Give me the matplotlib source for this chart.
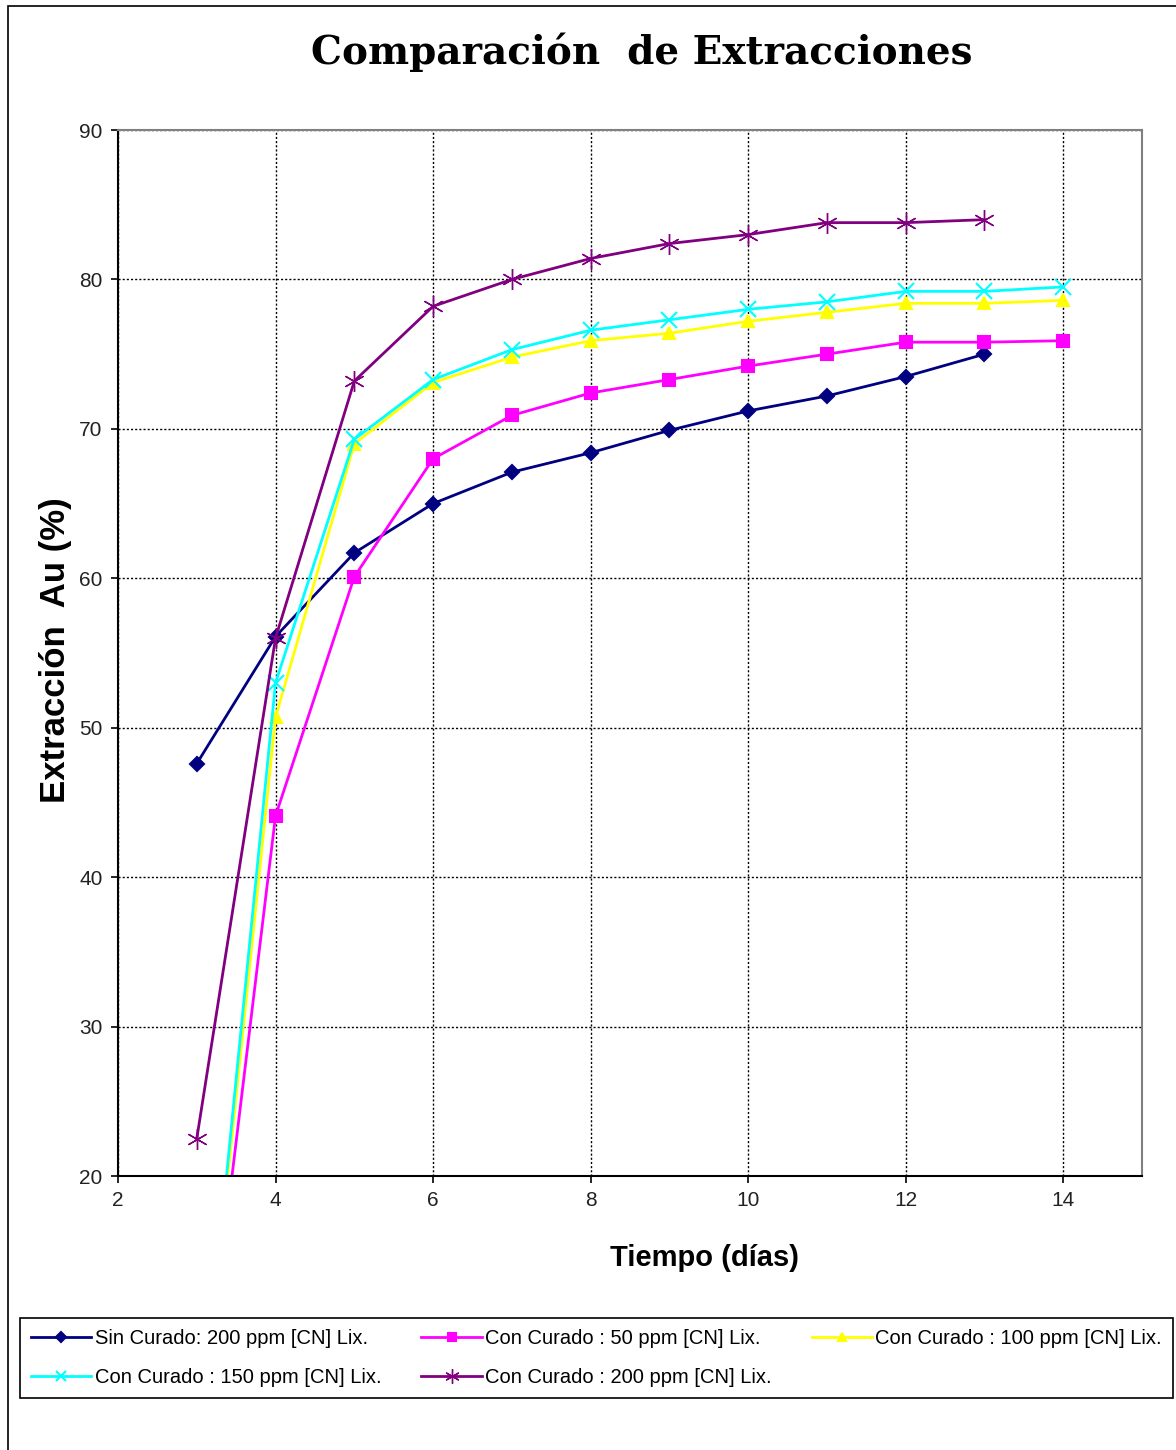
import matplotlib

matplotlib.use("Agg")
import matplotlib.pyplot as plt
from matplotlib.patches import Rectangle

# datos
dias = [3, 4, 5, 6, 7, 8, 9, 10, 11, 12, 13, 14]
sin_curado_200 = [47.6, 56.1, 61.7, 65.0, 67.1, 68.4, 69.9, 71.2, 72.2, 73.5, 75.0]
con_curado_50 = [0.5, 44.1, 60.1, 68.0, 70.9, 72.4, 73.3, 74.2, 75.0, 75.8, 75.8, 75.9]
con_curado_100 = [0.0, 50.7, 69.0, 73.1, 74.8, 75.9, 76.4, 77.2, 77.8, 78.4, 78.4, 78.6]
con_curado_150 = [0.0, 53.0, 69.3, 73.3, 75.3, 76.6, 77.3, 78.0, 78.5, 79.2, 79.2, 79.5]
con_curado_200 = [22.5, 56.0, 73.2, 78.2, 80.0, 81.4, 82.4, 83.0, 83.8, 83.8, 84.0]

etiquetas = [
    "Sin Curado: 200 ppm [CN] Lix.",
    "Con Curado : 50 ppm [CN] Lix.",
    "Con Curado : 100 ppm [CN] Lix.",
    "Con Curado : 150 ppm [CN] Lix.",
    "Con Curado : 200 ppm [CN] Lix.",
]

SANS = ["Liberation Sans", "DejaVu Sans"]

fig = plt.figure(figsize=(11.76, 14.5), dpi=100)
fig.patches.append(
    Rectangle((8 / 1176, -0.05), 1.2, 1.05 - 6 / 1450, transform=fig.transFigure,
              fill=False, edgecolor="black", linewidth=1.2)
)

ax = fig.add_axes([118 / 1176, (1450 - 1176) / 1450, 1024 / 1176, 1046 / 1450])

series = [
    (sin_curado_200, "#000080", "D", 7, 1.5),
    (con_curado_50, "#FF00FF", "s", 9, 1.5),
    (con_curado_100, "#FFFF00", "^", 9, 1.5),
    (con_curado_150, "#00FFFF", "x", 11, 1.5),
    (con_curado_200, "#800080", (6, 2, 0), 15, 1.0),
]
handles = []
for (vals, color, marker, ms, mew), label in zip(series, etiquetas):
    (ln,) = ax.plot(dias[:len(vals)], vals, color=color, marker=marker, markersize=ms,
                    markeredgewidth=mew, linewidth=2, label=label)
    handles.append(ln)

ax.set_xlim(2, 15)
ax.set_ylim(20, 90)
ax.set_xticks(range(2, 15, 2))
ax.set_yticks(range(20, 91, 10))
ax.grid(True, color="black", linestyle=(0, (1.5, 1.5)), linewidth=1)
ax.tick_params(direction="out", length=5, width=1.2, pad=6, labelsize=15, labelcolor="#222222")
for lbl in ax.get_xticklabels() + ax.get_yticklabels():
    lbl.set_family(SANS)

for side in ("left", "bottom"):
    ax.spines[side].set_color("black")
    ax.spines[side].set_linewidth(1.5)
for side in ("top", "right"):
    ax.spines[side].set_color("#808080")
    ax.spines[side].set_linewidth(1.5)

ax.set_xlabel("Tiempo (días)", fontsize=21, fontweight="bold", family=SANS)
ax.xaxis.set_label_coords((705 - 118) / 1024, -(1244 - 1176) / 1046)
ax.set_ylabel("Extracción  Au (%)", fontsize=25, fontweight="bold", family=SANS)
ax.yaxis.set_label_coords(-(118 - 72) / 1024, (1176 - 650) / 1046)

fig.text(642 / 1176, 1 - 52 / 1450, "Comparación  de Extracciones", ha="center", va="center",
         fontsize=28, fontweight="bold", family=["DejaVu Serif"])

# orden por filas como en la leyenda original (matplotlib llena por columnas)
orden = [0, 3, 1, 4, 2]
leg = fig.legend([handles[i] for i in orden], [etiquetas[i] for i in orden],
                 loc="center left", bbox_to_anchor=(20 / 1176, 1 - 1400 / 1450, 1153 / 1176, 84 / 1450),
                 mode="expand", ncol=3, fancybox=False, edgecolor="black", framealpha=1,
                 prop={"family": SANS, "size": 14.5}, handlelength=3, handletextpad=0.15,
                 borderaxespad=0, borderpad=0.55, labelspacing=1.0, columnspacing=1.0,
                 markerscale=0.7)
leg.get_frame().set_linewidth(1.2)

fig.savefig("out.png", dpi=100)
